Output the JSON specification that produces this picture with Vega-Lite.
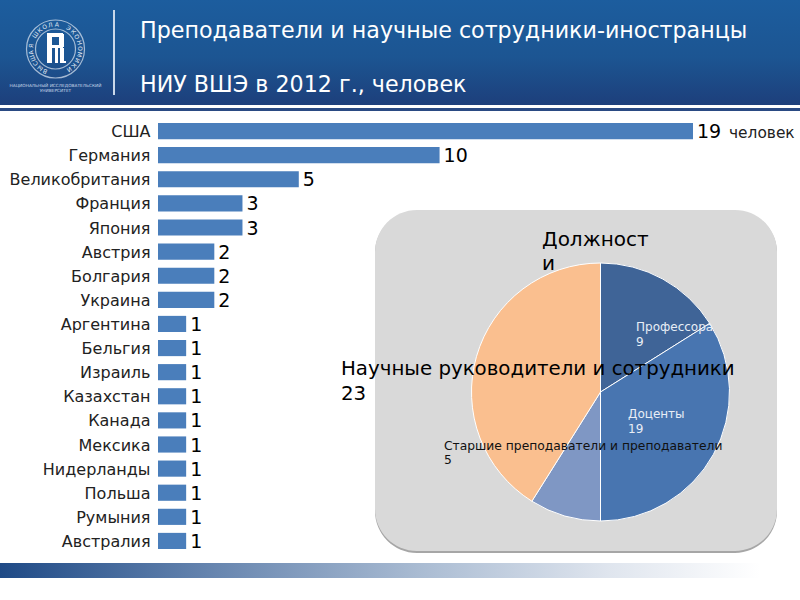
{"$schema":"https://vega.github.io/schema/vega-lite/v6.json","width":800,"height":600,"padding":0,"autosize":{"type":"none"},"background":"white","config":{"view":{"stroke":null},"text":{"font":"DejaVu Sans"}},"resolve":{"scale":{"x":"independent","y":"independent","theta":"independent","color":"independent","radius":"independent"},"axis":{"y":"independent","x":"independent"}},"layer":[
{"data":{"values":[{"a":0,"b":800,"t":0,"u":105}]},"mark":{"type":"rect","fill":{"gradient":"linear","x1":0,"y1":0,"x2":0,"y2":1,"stops":[{"offset":0,"color":"#1c5d9e"},{"offset":0.55,"color":"#1c5592"},{"offset":1,"color":"#1d3f7b"}]}},"encoding":{"x":{"field":"a","type":"quantitative","scale":{"domain":[0,800],"range":[0,800]},"axis":null},"x2":{"field":"b"},"y":{"field":"t","type":"quantitative","scale":{"domain":[0,600],"range":[0,600]},"axis":null},"y2":{"field":"u"}}},
{"data":{"values":[{"a":0,"b":800,"t":108,"u":111,"c":"#2a4a83"},{"a":113,"b":115,"t":10,"u":95,"c":"#c9d8ea"},{"a":47,"b":52,"t":33,"u":63,"c":"#ffffff"},{"a":47,"b":63,"t":33,"u":37,"c":"#ffffff"},{"a":59,"b":64,"t":34,"u":47,"c":"#ffffff"},{"a":47,"b":63,"t":45,"u":48,"c":"#ffffff"},{"a":55,"b":58,"t":48,"u":63,"c":"#ffffff"},{"a":60,"b":64,"t":48,"u":63,"c":"#ffffff"},{"a":60,"b":66,"t":61,"u":63,"c":"#ffffff"}]},"mark":{"type":"rect"},"encoding":{"x":{"field":"a","type":"quantitative","scale":{"domain":[0,800],"range":[0,800]},"axis":null},"x2":{"field":"b"},"y":{"field":"t","type":"quantitative","scale":{"domain":[0,600],"range":[0,600]},"axis":null},"y2":{"field":"u"},"color":{"field":"c","type":"nominal","scale":null}}},
{"data":{"values":[{"a":0,"b":760,"t":563,"u":578}]},"mark":{"type":"rect","fill":{"gradient":"linear","x1":0,"y1":0,"x2":1,"y2":0,"stops":[{"offset":0,"color":"#1f4a86"},{"offset":0.25,"color":"#5f7fab"},{"offset":0.55,"color":"#a9bbd2"},{"offset":0.8,"color":"#dfe5ee"},{"offset":1,"color":"#ffffff"}]}},"encoding":{"x":{"field":"a","type":"quantitative","scale":{"domain":[0,800],"range":[0,800]},"axis":null},"x2":{"field":"b"},"y":{"field":"t","type":"quantitative","scale":{"domain":[0,600],"range":[0,600]},"axis":null},"y2":{"field":"u"}}},
{"data":{"values":[{"a":375,"b":777,"t":211,"u":553,"c":"#a6a6a6"}]},"mark":{"type":"rect","cornerRadius":42},"encoding":{"x":{"field":"a","type":"quantitative","scale":{"domain":[0,800],"range":[0,800]},"axis":null},"x2":{"field":"b"},"y":{"field":"t","type":"quantitative","scale":{"domain":[0,600],"range":[0,600]},"axis":null},"y2":{"field":"u"},"color":{"field":"c","type":"nominal","scale":null}}},
{"data":{"values":[{"a":375,"b":777,"t":210,"u":551,"c":"#d9d9d9"}]},"mark":{"type":"rect","cornerRadius":42},"encoding":{"x":{"field":"a","type":"quantitative","scale":{"domain":[0,800],"range":[0,800]},"axis":null},"x2":{"field":"b"},"y":{"field":"t","type":"quantitative","scale":{"domain":[0,600],"range":[0,600]},"axis":null},"y2":{"field":"u"},"color":{"field":"c","type":"nominal","scale":null}}},
{"data":{"values":[{"country":"США","n":19},{"country":"Германия","n":10},{"country":"Великобритания","n":5},{"country":"Франция","n":3},{"country":"Япония","n":3},{"country":"Австрия","n":2},{"country":"Болгария","n":2},{"country":"Украина","n":2},{"country":"Аргентина","n":1},{"country":"Бельгия","n":1},{"country":"Израиль","n":1},{"country":"Казахстан","n":1},{"country":"Канада","n":1},{"country":"Мексика","n":1},{"country":"Нидерланды","n":1},{"country":"Польша","n":1},{"country":"Румыния","n":1},{"country":"Австралия","n":1}]},"encoding":{"y":{"field":"country","type":"nominal","sort":null,"title":null,"scale":{"range":[119,553],"paddingInner":0.33,"paddingOuter":0.165},"axis":{"offset":-158,"domain":false,"ticks":false,"labelPadding":8,"labelFont":"DejaVu Sans","labelFontSize":16,"labelOffset":1,"labelColor":"#222222","grid":false,"labelLimit":200}},"x":{"field":"n","type":"quantitative","scale":{"domain":[0,19],"range":[158,693]},"axis":null}},"layer":[{"mark":{"type":"bar","color":"#4a7ebb"}},{"mark":{"type":"text","align":"left","baseline":"middle","dx":4,"dy":1,"fontSize":19,"color":"#000000"},"encoding":{"text":{"field":"n","type":"quantitative"}}}]},
{"data":{"values":[{"post":"Профессора","n":9,"o":1},{"post":"Доценты","n":19,"o":2},{"post":"Старшие преподаватели и преподаватели","n":5,"o":3},{"post":"Научные руководители и сотрудники","n":23,"o":4}]},"mark":{"type":"arc","stroke":"#ffffff","strokeWidth":1,"outerRadius":129},"encoding":{"x":{"value":600.5},"y":{"value":392},"theta":{"field":"n","type":"quantitative","stack":true},"order":{"field":"o","type":"quantitative"},"color":{"field":"post","type":"nominal","legend":null,"scale":{"domain":["Профессора","Доценты","Старшие преподаватели и преподаватели","Научные руководители и сотрудники"],"range":["#3f6497","#4875b0","#7f97c4","#fabf8f"]}}}},
{"data":{"values":[{"x":55.5,"y":49,"s":3364,"c":"#dfe8f3"},{"x":55.5,"y":49,"s":1600,"c":"#dfe8f3"}]},"mark":{"type":"point","filled":false,"strokeWidth":1.2},"encoding":{"x":{"field":"x","type":"quantitative","scale":{"domain":[0,800],"range":[0,800]},"axis":null},"y":{"field":"y","type":"quantitative","scale":{"domain":[0,600],"range":[0,600]},"axis":null},"size":{"field":"s","type":"quantitative","scale":null},"color":{"field":"c","type":"nominal","scale":null}}},
{"data":{"values":[{"ch":"В","th":205},{"ch":"Ы","th":219},{"ch":"С","th":234},{"ch":"Ш","th":248},{"ch":"А","th":262},{"ch":"Я","th":277},{"ch":"Ш","th":305},{"ch":"К","th":320},{"ch":"О","th":334},{"ch":"Л","th":348},{"ch":"А","th":3},{"ch":"Э","th":32},{"ch":"К","th":46},{"ch":"О","th":60},{"ch":"Н","th":75},{"ch":"О","th":89},{"ch":"М","th":103},{"ch":"И","th":118},{"ch":"К","th":132},{"ch":"И","th":146}]},"mark":{"type":"text","fontSize":6,"radius":24.5,"align":"center","baseline":"middle","color":"#e4ecf5"},"encoding":{"x":{"value":55.5},"y":{"value":49},"theta":{"field":"th","type":"quantitative","scale":{"domain":[0,360],"range":[0,6.2832]}},"angle":{"field":"th","type":"quantitative","scale":null},"text":{"field":"ch","type":"nominal"}}},
{"data":{"values":[{"x":55.5,"y":86,"t":"НАЦИОНАЛЬНЫЙ ИССЛЕДОВАТЕЛЬСКИЙ","z":4.3,"c":"#c9d8ea"},{"x":55.5,"y":90.5,"t":"УНИВЕРСИТЕТ","z":4.3,"c":"#c9d8ea"}]},"mark":{"type":"text","baseline":"middle","align":"center"},"encoding":{"x":{"field":"x","type":"quantitative","scale":{"domain":[0,800],"range":[0,800]},"axis":null},"y":{"field":"y","type":"quantitative","scale":{"domain":[0,600],"range":[0,600]},"axis":null},"text":{"field":"t","type":"nominal"},"size":{"field":"z","type":"quantitative","scale":null},"color":{"field":"c","type":"nominal","scale":null}}},
{"data":{"values":[{"x":140,"y":31,"t":"Преподаватели и научные сотрудники-иностранцы","z":22.2,"c":"#ffffff"},{"x":140,"y":85,"t":"НИУ ВШЭ в 2012 г., человек","z":22.2,"c":"#ffffff"},{"x":729,"y":133,"t":"человек","z":15.4,"c":"#222222"},{"x":542,"y":240,"t":"Должност","z":20,"c":"#000000"},{"x":542,"y":264,"t":"и","z":20,"c":"#000000"},{"x":341,"y":369,"t":"Научные руководители и сотрудники","z":19.8,"c":"#000000"},{"x":341,"y":394,"t":"23","z":19.8,"c":"#000000"},{"x":636,"y":327,"t":"Профессора","z":12,"c":"#e8eef6"},{"x":636,"y":342,"t":"9","z":12,"c":"#e8eef6"},{"x":628,"y":414,"t":"Доценты","z":12,"c":"#e8eef6"},{"x":628,"y":429,"t":"19","z":12,"c":"#e8eef6"},{"x":444,"y":446,"t":"Старшие преподаватели и преподаватели","z":12.3,"c":"#111111"},{"x":444,"y":460,"t":"5","z":12.3,"c":"#111111"}]},"mark":{"type":"text","baseline":"middle","align":"left"},"encoding":{"x":{"field":"x","type":"quantitative","scale":{"domain":[0,800],"range":[0,800]},"axis":null},"y":{"field":"y","type":"quantitative","scale":{"domain":[0,600],"range":[0,600]},"axis":null},"text":{"field":"t","type":"nominal"},"size":{"field":"z","type":"quantitative","scale":null},"color":{"field":"c","type":"nominal","scale":null}}}
]}
